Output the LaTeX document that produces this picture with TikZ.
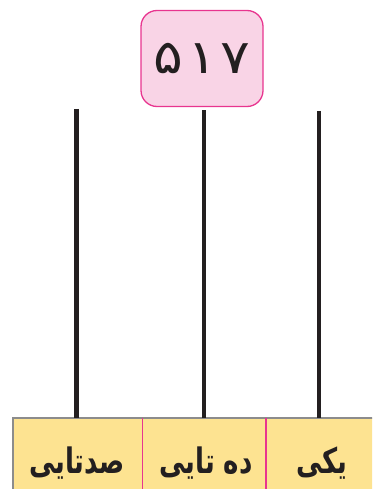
\documentclass[tikz,border=0pt]{standalone}
\usepackage{fontspec}
\usepackage{graphicx}
\TeXXeTstate=1
\newfontfamily\arabicfont[Script=Arabic]{DejaVu Sans}
\definecolor{boxpink}{HTML}{F9D4E6}
\definecolor{boxmag}{HTML}{E8358F}
\definecolor{cellyel}{HTML}{FDE391}
\definecolor{cellgray}{HTML}{8C8C8C}
\definecolor{linedark}{HTML}{231F20}
\begin{document}
\begin{tikzpicture}[x=1pt,y=-1pt,
  numbox/.style={draw=boxmag,line width=1.3pt,fill=boxpink,rounded corners=16pt,
    minimum width=122pt,minimum height=96pt,inner sep=0pt,
    font=\arabicfont\fontsize{47}{50}\selectfont,text=linedark},
  cell/.style={fill=cellyel,inner sep=0pt,minimum height=80pt,anchor=north west},
  lab/.style={font=\arabicfont\bfseries\fontsize{26}{30}\selectfont,text=linedark,inner sep=0pt},
  stem/.style={draw=linedark,line width=4.5pt}]
\useasboundingbox (0,0) rectangle (372,489);
\begin{scope}
\clip (0,0) rectangle (372,489);
\node[numbox] (num) at (202,58.5) {\scalebox{1.18}[1]{۵\hspace{3.5pt}۱\hspace{3.5pt}۷}};
\node[cell,minimum width=130pt] (c1) at (12.5,417.5) {};
\node[cell,minimum width=123.5pt] (c2) at (142.5,417.5) {};
\node[cell,minimum width=112pt] (c3) at (266,417.5) {};
\draw[cellgray,line width=2pt] (c3.north east) -- (c1.north west) -- (c1.south west);
\draw[boxmag,line width=1.2pt] (c2.north west) -- (c2.south west);
\draw[boxmag,line width=1.2pt] (c3.north west) -- (c3.south west);
\node[lab] (l1) at (77,463) {\scalebox{1}[1.35]{\beginR صدتایی\endR}};
\node[lab] (l2) at (206,463) {\scalebox{1}[1.35]{\beginR ده تایی\endR}};
\node[lab] (l3) at (322,463) {\scalebox{1}[1.35]{\beginR یکی\endR}};
\coordinate (t1) at (76.5,109);
\coordinate (t2) at (204,110.5);
\coordinate (t3) at (319,111);
\draw[stem] (t1) -- (t1 |- c1.north);
\draw[stem] (t2) -- (t2 |- c2.north);
\draw[stem] (t3) -- (t3 |- c3.north);
\end{scope}
\end{tikzpicture}
\end{document}
